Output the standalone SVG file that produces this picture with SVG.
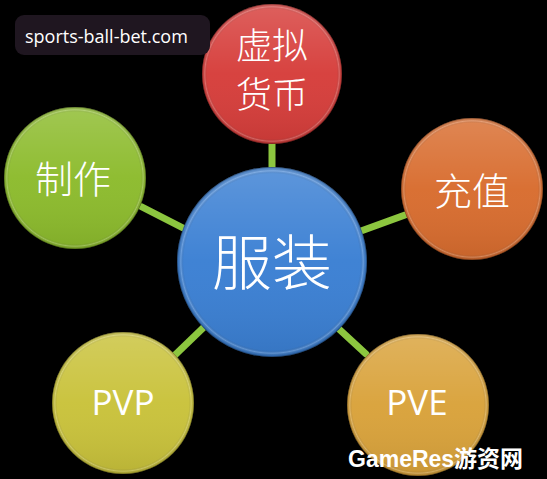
<svg xmlns="http://www.w3.org/2000/svg" width="547" height="479" viewBox="0 0 547 479">
<defs>
<linearGradient id="shine" x1="0" y1="0" x2="0" y2="1">
<stop offset="0" stop-color="#fff" stop-opacity="0.18"/>
<stop offset="0.5" stop-color="#fff" stop-opacity="0.03"/>
<stop offset="1" stop-color="#000" stop-opacity="0.08"/>
</linearGradient>
<radialGradient id="rim" cx="0.5" cy="0.5" r="0.5">
<stop offset="0.93" stop-color="#000" stop-opacity="0"/>
<stop offset="0.96" stop-color="#fff" stop-opacity="0.22"/>
<stop offset="0.985" stop-color="#000" stop-opacity="0.1"/>
<stop offset="1" stop-color="#000" stop-opacity="0.5"/>
</radialGradient>
</defs>
<style>
.conn{stroke:#8cc63f;stroke-width:7;stroke-linecap:round}
.ov{fill:url(#shine)}
.rm{fill:url(#rim)}
.cjk{font-family:"Noto Sans CJK SC","Liberation Serif",sans-serif;font-weight:300;fill:#fff;text-anchor:middle}
.lat{font-family:"Open Sans","Liberation Sans",sans-serif;fill:#fff;text-anchor:middle}
</style>
<rect width="547" height="479" fill="#000"/>
<g id="connectors">
<line class="conn" x1="272" y1="143" x2="272" y2="170"/>
<line class="conn" x1="142" y1="207" x2="185" y2="229"/>
<line class="conn" x1="405" y1="215" x2="361" y2="231"/>
<line class="conn" x1="203" y1="328" x2="175" y2="355"/>
<line class="conn" x1="340" y1="330" x2="366" y2="354"/>
</g>
<g id="node-center">
<circle cx="272" cy="262" r="95" fill="#3a7fd3"/>
<circle cx="272" cy="262" r="95" class="ov"/>
<circle cx="272" cy="262" r="95" class="rm"/>
<text x="272" y="285" class="cjk" font-size="60">服装</text>
</g>
<g id="node-currency">
<circle cx="272" cy="74" r="70" fill="#d63d3a"/>
<circle cx="272" cy="74" r="70" class="ov"/>
<circle cx="272" cy="74" r="70" class="rm"/>
<text x="272" y="59" class="cjk" font-size="36">虚拟</text>
<text x="272" y="108" class="cjk" font-size="36">货币</text>
</g>
<g id="node-craft">
<circle cx="75" cy="178" r="71" fill="#8cbb2c"/>
<circle cx="75" cy="178" r="71" class="ov"/>
<circle cx="75" cy="178" r="71" class="rm"/>
<text x="73" y="193" class="cjk" font-size="38">制作</text>
</g>
<g id="node-recharge">
<circle cx="472" cy="189" r="71" fill="#d86c2e"/>
<circle cx="472" cy="189" r="71" class="ov"/>
<circle cx="472" cy="189" r="71" class="rm"/>
<text x="472" y="205" class="cjk" font-size="38">充值</text>
</g>
<g id="node-pvp">
<circle cx="123" cy="403" r="71" fill="#c9c23a"/>
<circle cx="123" cy="403" r="71" class="ov"/>
<circle cx="123" cy="403" r="71" class="rm"/>
<text x="123" y="415" class="lat" font-size="35">PVP</text>
</g>
<g id="node-pve">
<circle cx="418" cy="405" r="71" fill="#d9a23a"/>
<circle cx="418" cy="405" r="71" class="ov"/>
<circle cx="418" cy="405" r="71" class="rm"/>
<text x="417" y="415" class="lat" font-size="35">PVE</text>
</g>
<g id="label">
<rect x="15" y="15" width="195" height="40" rx="9" fill="#1f1620"/>
<text x="25" y="43" font-family="Open Sans, Liberation Sans, sans-serif" font-size="18" fill="#fff">sports-ball-bet.com</text>
</g>
<g id="watermark">
<text x="348" y="467" font-family="Liberation Sans, Noto Sans CJK SC, sans-serif" font-weight="bold" font-size="23" fill="#fff">GameRes游资网</text>
</g>
</svg>
